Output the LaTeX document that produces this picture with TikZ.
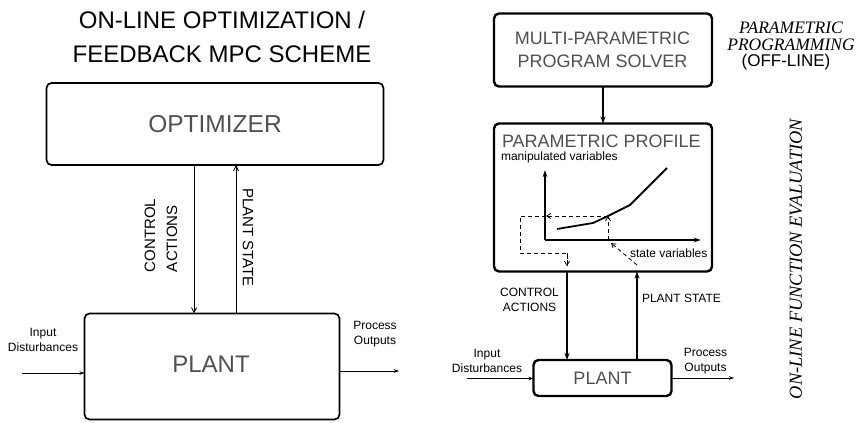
\documentclass[tikz,border=0pt]{standalone}
\usepackage{fontspec}
\setmainfont{Liberation Sans}
\newfontfamily\serifit{Liberation Serif}
\usetikzlibrary{arrows.meta}
\definecolor{boxtext}{HTML}{505050}
\begin{document}
\begin{tikzpicture}[x=1pt,y=-1pt,
  every node/.style={inner sep=0pt, outer sep=0pt},
  lbox/.style={draw, line width=1.7pt, rounded corners=5pt},
  rbox/.style={draw, line width=2.4pt, rounded corners=5pt},
  boxlabel/.style={text=boxtext},
  small/.style={font=\fontsize{12}{14.5}\selectfont, align=center},
  thinarr/.style={line width=0.8pt, -{Straight Barb[length=5pt,width=5pt]}},
  sidearr/.style={line width=0.8pt, -{Stealth[length=5pt,width=3.5pt]}},
  thickarr/.style={line width=2pt, -{Stealth[length=7pt,width=5pt]}},
  axisarr/.style={line width=1.4pt, -{Stealth[length=7pt,width=4.5pt]}},
  dasharr/.style={line width=0.8pt, dash pattern=on 4pt off 3pt, -{Straight Barb[length=4pt,width=5pt]}},
  dashline/.style={line width=0.8pt, dash pattern=on 4pt off 3pt},
  profile/.style={line width=1.8pt, line join=round},
  italic/.style={font=\serifit\itshape\fontsize{17.5}{20}\selectfont, text height=12pt, text depth=0pt}
]
\useasboundingbox (0,0) rectangle (857,423);

% ---------------- left: on-line optimisation loop ----------------
\node[font=\fontsize{24}{34}\selectfont, align=center] (title) at (222,37)
  {ON-LINE OPTIMIZATION /\\FEEDBACK MPC SCHEME};

\node[lbox, minimum width=337pt, minimum height=82pt] (opt) at (215,124) {};
\node[boxlabel, font=\fontsize{24.5}{28}\selectfont] (optlbl) at (opt.center) {OPTIMIZER};

\node[lbox, minimum width=255pt, minimum height=106pt] (plantL) at (212,366.5) {};
\node[boxlabel, font=\fontsize{24}{28}\selectfont] (plantLlbl) at (211,364) {PLANT};

\coordinate (caL) at (194,0);
\coordinate (psL) at (236,0);
\draw[thinarr] (caL |- opt.south) -- (caL |- plantL.north);
\draw[thinarr] (psL |- plantL.north) -- (psL |- opt.south);

\node[rotate=90, anchor=west, align=left, font=\fontsize{15}{22}\selectfont]
  (caLlbl) at (161,272) {CONTROL\\ACTIONS};
\node[rotate=-90, anchor=west, font=\fontsize{15}{18}\selectfont]
  (psLlbl) at (248,188) {PLANT STATE};

\coordinate (inL) at (22,373);
\coordinate (outL) at (399,371);
\draw[sidearr] (inL) -- (inL -| plantL.west);
\draw[sidearr] (outL -| plantL.east) -- (outL);
\node[small] (inLlbl) at (43,340) {Input\\Disturbances};
\node[small] (outLlbl) at (375,334) {Process\\Outputs};

% ---------------- right: explicit (multi-parametric) scheme ----------------
\node[rbox, minimum width=218pt, minimum height=73pt] (solver) at (603,50) {};
\node[boxlabel, align=center, font=\fontsize{18}{23}\selectfont] (solverlbl) at (602.5,50)
  {MULTI-PARAMETRIC\\PROGRAM SOLVER};

\node[italic, anchor=base] (pp1) at (791,33.5) {PARAMETRIC};
\node[italic, anchor=base] (pp2) at (791,50) {PROGRAMMING};
\node[anchor=base, font=\fontsize{17}{18}\selectfont, text height=12pt, text depth=3pt]
  (pp3) at (786,66) {(OFF-LINE)};

\node[rbox, minimum width=218pt, minimum height=148pt] (prof) at (603,197.5) {};
\node[boxlabel, anchor=base west, font=\fontsize{18}{20}\selectfont] (proflbl) at (502,147)
  {PARAMETRIC PROFILE};
\node[anchor=base west, font=\fontsize{12}{14}\selectfont] (mvlbl) at (501,160)
  {manipulated variables};

\node[rbox, minimum width=138pt, minimum height=36pt] (plantR) at (602.5,378) {};
\node[boxlabel, font=\fontsize{18}{20}\selectfont] (plantRlbl) at (602.5,378) {PLANT};

\draw[thickarr] (solver.south) -- (prof.north);

\coordinate (caR) at (567,0);
\coordinate (psR) at (637,0);
\draw[thickarr] (caR |- prof.south) -- (caR |- plantR.north);
\draw[thickarr] (psR |- plantR.north) -- (psR |- prof.south);

\node[small] (caRlbl) at (529.5,300) {CONTROL\\ACTIONS};
\node[anchor=base west, font=\fontsize{12}{14}\selectfont] (psRlbl) at (642,302) {PLANT STATE};

\coordinate (inR) at (467,378.5);
\coordinate (outR) at (734,378);
\draw[sidearr] (inR) -- (inR -| plantR.west);
\draw[sidearr] (outR -| plantR.east) -- (outR);
\node[small] (inRlbl) at (487,361) {Input\\Disturbances};
\node[small] (outRlbl) at (705.5,361) {Process\\Outputs};

% parametric profile plot
\coordinate (origin) at (545,240);
\coordinate (yend) at (545,170);
\coordinate (xend) at (701,240);
\draw[axisarr] (origin) -- (yend);
\draw[axisarr] (origin) -- (xend);
\node[anchor=base west, font=\fontsize{12}{14}\selectfont] (svlbl) at (630,257) {state variables};

\coordinate (c1) at (557,229);
\coordinate (c2) at (593,223);
\coordinate (c3) at (608,216);
\coordinate (c4) at (630,205);
\coordinate (c5) at (667,168);
\draw[profile] (c1) -- (c2) -- (c3) -- (c4) -- (c5);

% evaluation path: measured state -> curve -> control action
\coordinate (xs) at (608,240);
\coordinate (ys) at (546,216);
\coordinate (d1) at (520,216);
\coordinate (d2) at (520,253);
\coordinate (d3) at (567,253);
\coordinate (d4) at (567,266);
\coordinate (st0) at (637,265);
\coordinate (st1) at (611,243);
\draw[dasharr] (st0) -- (st1);
\draw[dasharr] (xs) -- (c3);
\draw[dasharr] (c3) -- (ys);
\draw[dashline] (ys) -- (d1) -- (d2) -- (d3) -- (d4);
\draw[dasharr] (d3) -- (d4);

\node[rotate=90, font=\serifit\itshape\fontsize{18.4}{20}\selectfont] (onlinelbl) at (796,259)
  {ON-LINE FUNCTION EVALUATION};
\end{tikzpicture}
\end{document}
